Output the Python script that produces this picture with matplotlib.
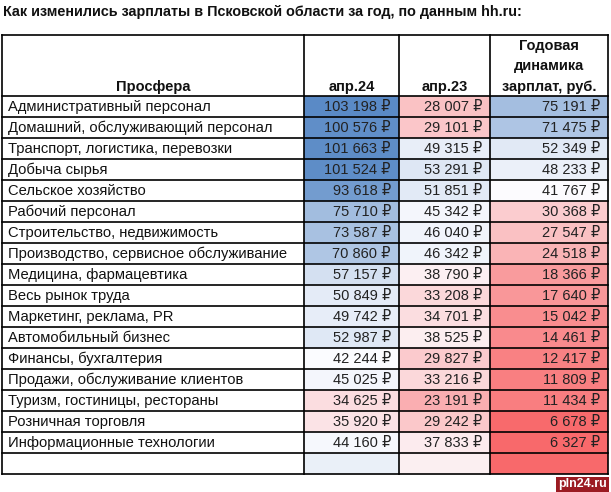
import matplotlib
matplotlib.use("Agg")
import matplotlib.pyplot as plt
from matplotlib.patches import Rectangle
from matplotlib.colors import LinearSegmentedColormap, TwoSlopeNorm

title = "Как изменились зарплаты в Псковской области за год, по данным hh.ru:"
headers = ["Просфера", "апр.24", "апр.23", "Годовая\nдинамика\nзарплат, руб."]
categories = [
    "Административный персонал",
    "Домашний, обслуживающий персонал",
    "Транспорт, логистика, перевозки",
    "Добыча сырья",
    "Сельское хозяйство",
    "Рабочий персонал",
    "Строительство, недвижимость",
    "Производство, сервисное обслуживание",
    "Медицина, фармацевтика",
    "Весь рынок труда",
    "Маркетинг, реклама, PR",
    "Автомобильный бизнес",
    "Финансы, бухгалтерия",
    "Продажи, обслуживание клиентов",
    "Туризм, гостиницы, рестораны",
    "Розничная торговля",
    "Информационные технологии",
]
apr24 = [103198, 100576, 101663, 101524, 93618, 75710, 73587, 70860, 57157,
         50849, 49742, 52987, 42244, 45025, 34625, 35920, 44160]
apr23 = [28007, 29101, 49315, 53291, 51851, 45342, 46040, 46342, 38790,
         33208, 34701, 38525, 29827, 33216, 23191, 29242, 37833]
growth = [75191, 71475, 52349, 48233, 41767, 30368, 27547, 24518, 18366,
          17640, 15042, 14461, 12417, 11809, 11434, 6678, 6327]

W, H = 611, 492
fig = plt.figure(figsize=(W / 100, H / 100), dpi=100)
ax = fig.add_axes([0, 0, 1, 1])
ax.set_xlim(0, W)
ax.set_ylim(H, 0)
ax.axis("off")

FONT = ["Liberation Sans", "DejaVu Sans"]
all_vals = apr24 + apr23 + growth
cmap = LinearSegmentedColormap.from_list("rwb", ["#F8696B", "#FCFCFF", "#5A8AC6"])
norm = TwoSlopeNorm(vmin=min(all_vals), vcenter=42000, vmax=max(all_vals))

xs = [2, 304, 399, 490, 608]
head_top, head_bot = 35, 96
row_h = 21
n_rows = len(categories) + 1

ax.text(3, 12, title, fontsize=10.35, fontweight="bold", family=FONT,
        va="center", ha="left", color="#111111")

def fmt(v):
    return f"{v:,}".replace(",", " ") + " ₽"

cols = [apr24, apr23, growth]
empty_colors = ["#EAF0F8", "#FBEFF1", "#F8696B"]
for i in range(n_rows):
    y0 = head_bot + i * row_h
    yc = y0 + row_h / 2 + 0.5
    if i < len(categories):
        ax.text(xs[0] + 6, yc, categories[i], fontsize=10.6, family=FONT,
                va="center", ha="left", color="#111111")
    for j, col in enumerate(cols):
        if i < len(categories):
            c = cmap(norm(col[i]))
        else:
            c = empty_colors[j]
        ax.add_patch(Rectangle((xs[j + 1], y0), xs[j + 2] - xs[j + 1], row_h,
                               facecolor=c, edgecolor="none", zorder=1))
        if i < len(categories):
            ax.text(xs[j + 2] - 8, yc, fmt(col[i]), fontsize=10.5, family=FONT,
                    va="center", ha="right", color="#222222", zorder=3)

# header
for j, h in enumerate(headers):
    xc = (xs[j] + xs[j + 1]) / 2
    ax.text(xc, head_bot - 2.5, h, fontsize=10.5, fontweight="bold", family=FONT,
            va="bottom", ha="center", linespacing=1.55, color="#111111")

# grid lines
bottom = head_bot + n_rows * row_h
for x in xs:
    ax.plot([x, x], [head_top, bottom], color="black", lw=1.2, zorder=4)
ax.plot([xs[0], xs[-1]], [head_top, head_top], color="black", lw=1.2, zorder=4)
for i in range(n_rows + 1):
    y = head_bot + i * row_h
    ax.plot([xs[0], xs[-1]], [y, y], color="black", lw=1.2, zorder=4)

# watermark
ax.add_patch(Rectangle((556, 477), 53, 15, facecolor="#9B1B22", edgecolor="none", zorder=5))
ax.text(582.5, 484.5, "pln24.ru", fontsize=9, fontweight="bold", family=FONT,
        color="white", ha="center", va="center", zorder=6)

fig.savefig("out.png", dpi=100)
